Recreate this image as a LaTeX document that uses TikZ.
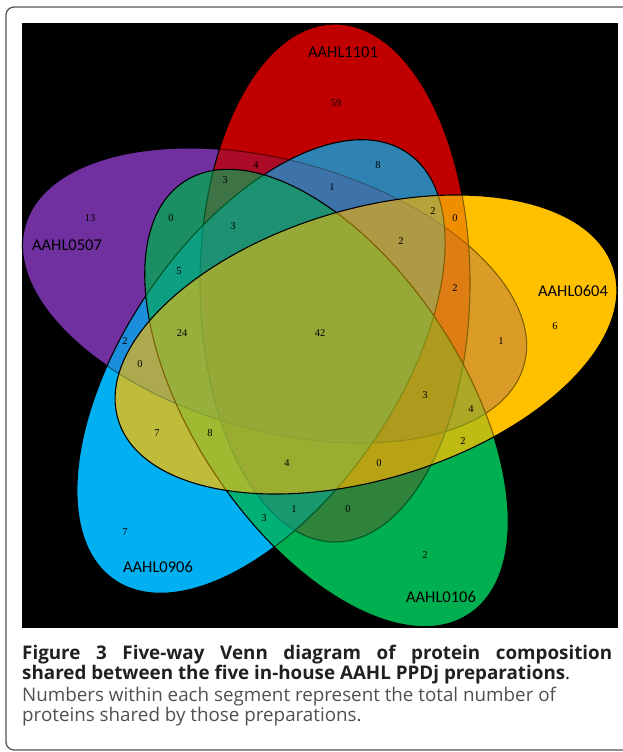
\documentclass[tikz,border=0pt]{standalone}
\usepackage{fontspec}
\setmainfont{Liberation Serif}
\newfontfamily\labelfont{Carlito}
\newfontfamily\capfont{Open Sans}
\usetikzlibrary{positioning}
\definecolor{SetRed}{HTML}{C00000}
\definecolor{SetYellow}{HTML}{FFC000}
\definecolor{SetGreen}{HTML}{00B050}
\definecolor{SetBlue}{HTML}{00B0F0}
\definecolor{SetPurple}{HTML}{7030A0}
\definecolor{FrameGray}{RGB}{85,85,85}
\definecolor{CapDark}{RGB}{35,31,32}
\definecolor{CapGray}{RGB}{80,80,80}
% one set = an ellipse: centre x, centre y, turn (pixel units, y downwards)
\newcommand{\setlobe}[3]{[rotate around={#3:(#1,#2)}] (#1,#2) ellipse [x radius=259pt,y radius=135pt]}
\tikzset{
  lobe/.style={fill=#1,fill opacity=0.5,draw=black,draw opacity=1,line width=1.1pt},
  num/.style={inner sep=0pt,font=\fontsize{10.5}{10.5}\selectfont},
  setname/.style={inner sep=0pt,font=\labelfont\fontsize{16.5}{16.5}\selectfont},
  capline/.style={inner sep=0pt,anchor=base west},
}
\begin{document}
\begin{tikzpicture}[x=1pt,y=-1pt]
  \useasboundingbox (0,0) rectangle (622,752);
  \draw[FrameGray,line width=1.3pt,rounded corners=8pt] (6,7) rectangle (660,750);
  \fill[black] (22,23) rectangle (618,628);

  % opaque base colours
  \fill[SetPurple] \setlobe{274.5}{295.5}{-15.6};
  \fill[SetRed] \setlobe{335}{283}{90};
  \fill[SetBlue] \setlobe{261}{366.5}{55.5};
  \fill[SetGreen] \setlobe{326.5}{398}{123.4};
  \fill[SetYellow] \setlobe{366}{344.5}{16.9};

  % translucent layer with outlines
  \path[lobe=SetPurple] \setlobe{274.5}{295.5}{-15.6};
  \path[lobe=SetRed] \setlobe{335}{283}{90};
  \path[lobe=SetBlue] \setlobe{261}{366.5}{55.5};
  \path[lobe=SetGreen] \setlobe{326.5}{398}{123.4};
  \path[lobe=SetYellow] \setlobe{366}{344.5}{16.9};

  \node[setname] (s1101) at (343,52) {AAHL1101};
  \node[setname] (s0604) at (573,291) {AAHL0604};
  \node[setname] (s0106) at (441,597) {AAHL0106};
  \node[setname] (s0906) at (158,567) {AAHL0906};
  \node[setname] (s0507) at (67,245) {AAHL0507};

  \foreach \x/\y/\val [count=\k] in {336/103/59, 378/165/8, 332/187/1, 433/211/2,
      455/218/0, 401/241/2, 455/288/2, 555/326/6, 501/341/1, 425/395/3,
      471/409/4, 463/441/2, 379/463/0, 348/509/0, 425/555/2, 182/333/24,
      320/333/42, 125/341/2, 140/364/0, 157/433/7, 210/433/8, 287/463/4,
      264/518/3, 294/509/1, 125/532/7, 90/218/13, 256/165/4, 225/180/3,
      171/218/0, 233/226/3, 179/271/5}
    \node[num] (c\k) at (\x,\y) {\val};

  \node[capline,text=CapDark,font=\capfont\bfseries\fontsize{18.8}{18.8}\selectfont] (cap1) at (22,659)
    {\makebox[590pt][s]{Figure 3 Five-way Venn diagram of protein composition}};
  \node[capline,text=CapDark,font=\capfont\fontsize{18.8}{18.8}\selectfont] (cap2) at (22,679)
    {\textbf{shared between the five in-house AAHL PPDj preparations}.};
  \node[capline,text=CapGray,font=\capfont\fontsize{18.8}{18.8}\selectfont] (cap3) at (22,701)
    {Numbers within each segment represent the total number of};
  \node[capline,text=CapGray,font=\capfont\fontsize{18.8}{18.8}\selectfont] (cap4) at (22,721)
    {proteins shared by those preparations.};
\end{tikzpicture}
\end{document}
